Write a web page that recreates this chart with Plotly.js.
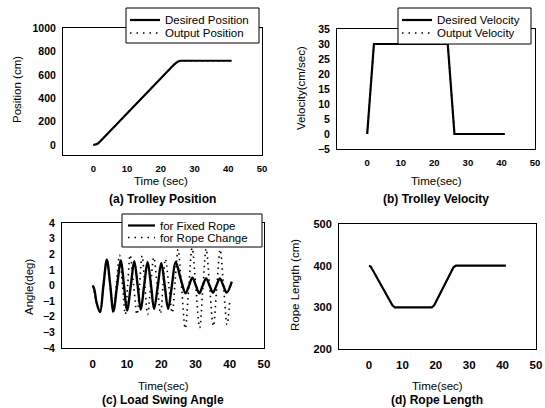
<!DOCTYPE html>
<html>
<head>
<meta charset="utf-8">
<script src="https://cdn.plot.ly/plotly-3.0.1.min.js"></script>
<style>
html,body{margin:0;padding:0;background:#fff;}
#chart{width:545px;height:408px;}
</style>
</head>
<body>
<div id="chart"></div>
<script>
// ---- (a) Trolley Position ----
const posTime      = [0, 0.5, 1, 1.5, 2, 24, 24.5, 25, 25.5, 26, 41];
const posDesired   = [0, 1, 7.5, 17, 30, 690, 705, 712.5, 718, 720, 720];
const posOutput    = [0, 1, 7.5, 17, 30, 690, 705, 712.5, 718, 720, 720];

// ---- (b) Trolley Velocity ----
const velTime      = [0, 2, 24, 26, 41];
const velDesired   = [0, 30, 30, 0, 0];
const velOutput    = [0, 30, 30, 0, 0];

// ---- (c) Load Swing Angle ----
const fixedTime  = [0, 0.5, 1.1, 2.1, 3.1, 4.1, 5.1, 6.0, 7.1, 8.2, 9.1, 10.0, 11.1, 12.1, 13.1, 14.0, 15.0, 16.0, 17.0, 17.9, 19.0, 20.0, 21.0, 22.0, 23.1, 24.2, 25.7, 27.1, 28.1, 29.1, 30.1, 31.1, 32.1, 33.1, 34.1, 35.1, 36.1, 37.1, 38.1, 39.1, 40.6];
const fixedAngle = [0, -0.3, -1.1, -1.7, 0, 1.65, 0, -1.65, 0, 1.6, 0, -1.6, 0, 1.55, 0, -1.55, 0, 1.5, 0, -1.5, 0, 1.45, 0, -1.5, 0, 1.5, 0.4, -0.5, 0, 0.5, 0, -0.5, 0, 0.45, 0, -0.45, 0, 0.45, 0, -0.45, 0.25];
const changeTime  = [0, 1.0, 2.1, 3.1, 4.1, 5.05, 6.0, 6.9, 7.8, 8.65, 9.5, 10.2, 10.9, 11.9, 12.9, 13.65, 14.4, 15.2, 16.0, 16.9, 17.8, 18.8, 19.8, 20.5, 21.2, 22.2, 23.2, 24.05, 24.9, 25.95, 27.0, 28.0, 29.0, 30.1, 31.2, 32.15, 33.1, 34.15, 35.2, 36.2, 37.2, 38.2, 39.2, 40.0];
const changeAngle = [0, -1.0, -1.7, 0, 1.65, 0, -1.75, 0.1, 1.95, 0.05, -1.85, 0.05, 1.95, 0.05, -1.85, 0, 1.9, 0, -1.85, 0, 1.8, 0, -1.8, 0, 1.7, 0, -1.75, 0.3, 2.3, -0.2, -2.75, -0.2, 2.4, -0.15, -2.7, -0.15, 2.35, -0.15, -2.6, -0.15, 2.3, -0.1, -2.5, -1.0];

// ---- (d) Rope Length ----
const ropeTime   = [0, 0.5, 7, 7.7, 18.8, 19.5, 25.3, 26, 41];
const ropeLength = [400, 398, 305, 300, 300, 305, 396, 400, 400];

// ---- labels ----
const xTicks = [0, 10, 20, 30, 40, 50];
const captions = ["(a) Trolley Position", "(b) Trolley Velocity", "(c) Load Swing Angle", "(d) Rope Length"];
const legendA = ["Desired Position", "Output Position"];
const legendB = ["Desired Velocity", "Output Velocity"];
const legendC = ["for Fixed Rope", "for Rope Change"];

const W = 545, H = 408;
const px = v => v / W;
const py = v => 1 - v / H;

const FONT = "Liberation Sans, Arial, Helvetica, sans-serif";
const dotDash = "1.5px,4px";

const traces = [
  {x: posTime, y: posOutput, name: legendA[1], mode: "lines", line: {color: "#000", width: 1.5, dash: dotDash}, xaxis: "x", yaxis: "y"},
  {x: posTime, y: posDesired, name: legendA[0], mode: "lines", line: {color: "#000", width: 2.2}, xaxis: "x", yaxis: "y"},
  {x: velTime, y: velOutput, name: legendB[1], mode: "lines", line: {color: "#000", width: 1.5, dash: dotDash}, xaxis: "x2", yaxis: "y2"},
  {x: velTime, y: velDesired, name: legendB[0], mode: "lines", line: {color: "#000", width: 2.2}, xaxis: "x2", yaxis: "y2"},
  {x: changeTime, y: changeAngle, name: legendC[1], mode: "lines", line: {color: "#000", width: 1.6, dash: dotDash, shape: "spline"}, xaxis: "x3", yaxis: "y3"},
  {x: fixedTime, y: fixedAngle, name: legendC[0], mode: "lines", line: {color: "#000", width: 2.4, shape: "spline"}, xaxis: "x3", yaxis: "y3"},
  {x: ropeTime, y: ropeLength, name: "Rope Length", mode: "lines", line: {color: "#000", width: 2.2}, xaxis: "x4", yaxis: "y4"}
];
traces.forEach(t => { t.showlegend = false; t.hoverinfo = "skip"; });

function xax(domain, anchor, size) {
  return {domain: domain, anchor: anchor, range: [-9, 50], tickmode: "array", tickvals: xTicks, ticktext: xTicks.map(String),
    showgrid: false, zeroline: false, showline: true, mirror: true, linecolor: "#000", linewidth: 1,
    ticks: "", ticklabelstandoff: 5, tickfont: {family: FONT, size: size, color: "#000", weight: "bold"}, fixedrange: true};
}
function yax(domain, anchor, range, dtick, size) {
  return {domain: domain, anchor: anchor, range: range, tick0: 0, dtick: dtick,
    showgrid: false, zeroline: false, showline: true, mirror: true, linecolor: "#000", linewidth: 1,
    ticks: "", ticklabelstandoff: 4, tickfont: {family: FONT, size: size, color: "#000", weight: "bold"}, fixedrange: true};
}

function ann(text, xp, yp, size, bold, angle, anchor) {
  return {text: text, x: px(xp), y: py(yp), xref: "paper", yref: "paper", showarrow: false, xanchor: anchor || "center", yanchor: "middle",
    textangle: angle || 0, borderpad: 0, font: {family: FONT, size: size, color: "#000", weight: bold ? "bold" : "normal"}};
}

const shapes = [];
const annotations = [];
function legendBox(x0, y0, x1, y1, labels, rowY, sx0, sx1, tx) {
  shapes.push({type: "rect", xref: "paper", yref: "paper", x0: px(x0), x1: px(x1), y0: py(y1), y1: py(y0),
    fillcolor: "#fff", line: {color: "#000", width: 1}, layer: "above"});
  shapes.push({type: "line", xref: "paper", yref: "paper", x0: px(sx0), x1: px(sx1), y0: py(rowY[0]), y1: py(rowY[0]),
    line: {color: "#000", width: 2.2}, layer: "above"});
  shapes.push({type: "line", xref: "paper", yref: "paper", x0: px(sx0), x1: px(sx1), y0: py(rowY[1]), y1: py(rowY[1]),
    line: {color: "#000", width: 1.5, dash: "1.5px,5px"}, layer: "above"});
  annotations.push(ann(labels[0], tx, rowY[0], 11.5, false, 0, "left"));
  annotations.push(ann(labels[1], tx, rowY[1], 11.5, false, 0, "left"));
}
legendBox(126, 8, 259, 43, legendA, [20, 33], 130, 160, 164);
legendBox(398, 8, 531, 44, legendB, [20, 33], 402, 432, 436);
legendBox(122, 214, 262, 247, legendC, [225.5, 237.5], 128, 155, 159);

annotations.push(
  ann("Position (cm)", 17, 90, 11.5, false, -90),
  ann("Time (sec)", 161, 181, 11.5, false),
  ann(captions[0], 162, 199, 12, true),
  ann("Velocity(cm/sec)", 301, 88, 11.5, false, -90),
  ann("Time(sec)", 436, 181, 11.5, false),
  ann(captions[1], 436, 199, 12, true),
  ann("Angle(deg)", 29, 287, 11.5, false, -90),
  ann("Time(sec)", 163, 386, 11.5, false),
  ann(captions[2], 163, 400, 12, true),
  ann("Rope Length (cm)", 295, 285, 11.5, false, -90),
  ann("Time(sec)", 437, 386, 11.5, false),
  ann(captions[3], 437, 400, 12, true)
);

const layout = {
  width: W, height: H, margin: {l: 0, r: 0, t: 0, b: 0}, paper_bgcolor: "#fff", plot_bgcolor: "#fff",
  showlegend: false,
  xaxis:  xax([px(63), px(262)], "y", 9.5),
  yaxis:  yax([py(155), py(28)], "x", [-85, 1000], 200, 10.5),
  xaxis2: xax([px(337), px(535)], "y2", 9.5),
  yaxis2: yax([py(149), py(29)], "x2", [-5, 35], 5, 10.5),
  xaxis3: xax([px(62), px(264)], "y3", 11.5),
  yaxis3: yax([py(348), py(223)], "x3", [-4, 4], 1, 10.5),
  xaxis4: xax([px(339), px(536)], "y4", 11.5),
  yaxis4: yax([py(349), py(224)], "x4", [200, 500], 100, 11),
  shapes: shapes,
  annotations: annotations
};

Plotly.newPlot("chart", traces, layout, {displayModeBar: false, staticPlot: true});
</script>
</body>
</html>
